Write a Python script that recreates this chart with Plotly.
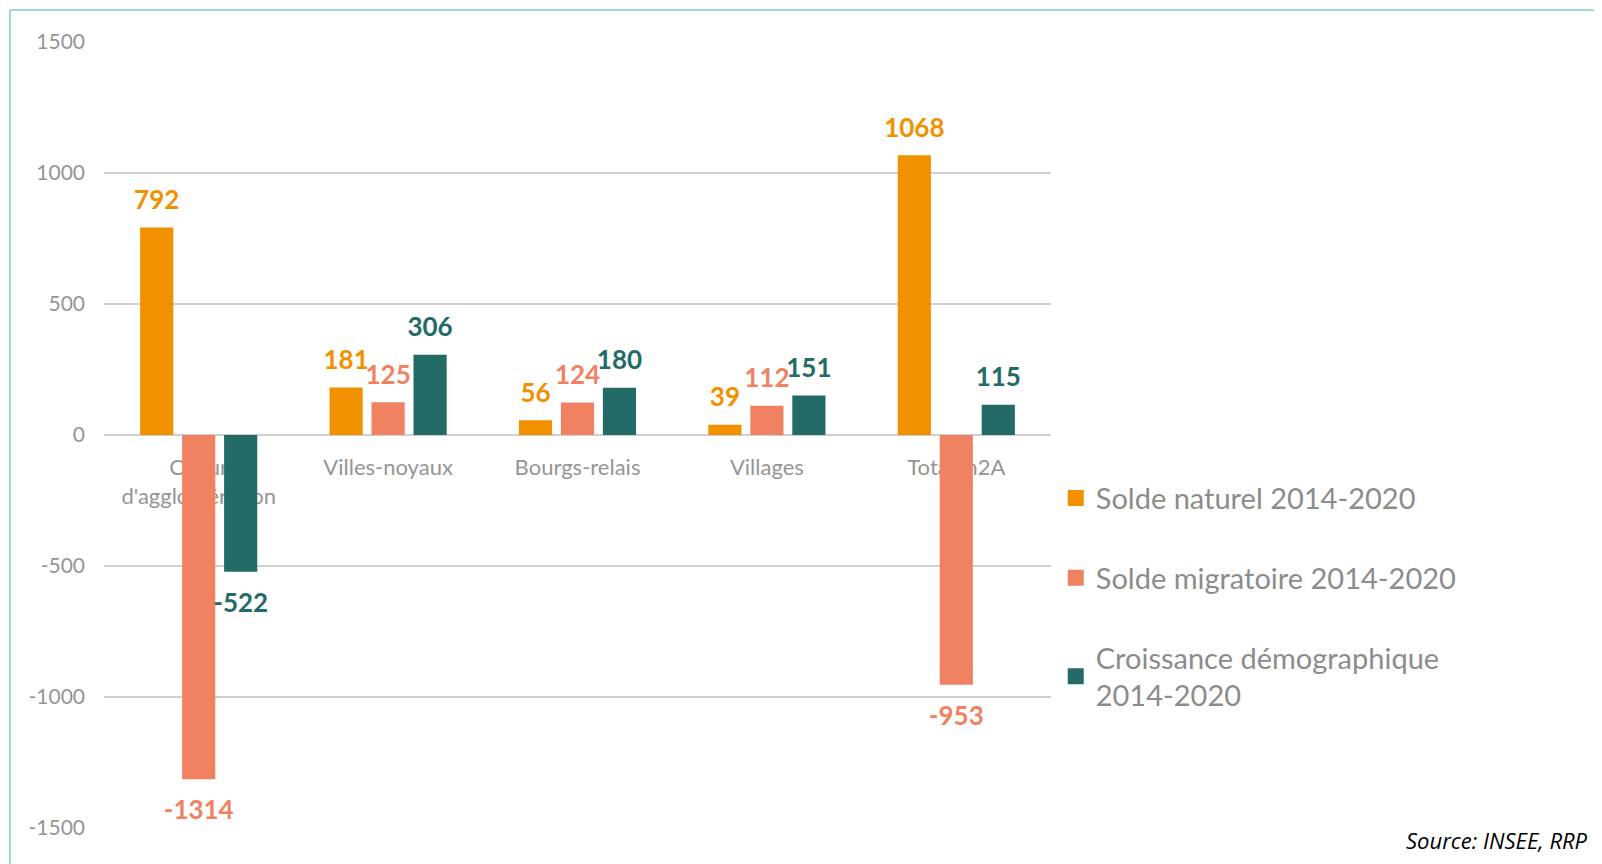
import plotly.graph_objects as go

categories = ["Coeur<br>d'agglomération", "Villes-noyaux", "Bourgs-relais", "Villages", "Total m2A"]
solde_naturel = [792, 181, 56, 39, 1068]
solde_migratoire = [-1314, 125, 124, 112, -953]
croissance = [-522, 306, 180, 151, 115]

y_ticks = [-1500, -1000, -500, 0, 500, 1000, 1500]
y_ticktext = ["-1500", "-1000", "-500", "0", "500", "1000", "1500"]

series = [
    ("Solde naturel 2014-2020", solde_naturel, "#F29100"),
    ("Solde migratoire 2014-2020", solde_migratoire, "#F08262"),
    ("Croissance démographique<br>2014-2020", croissance, "#236B67"),
]

FONT = "Lato, 'Open Sans', sans-serif"
GRAY = "#959595"

# invisible sub/sup spaces push the value labels a little away from the bar ends
SUB = "<sub><span style='font-size:48px'>&nbsp;</span></sub>"
SUP = "<sup><span style='font-size:26px'>&nbsp;</span></sup>"


def label(v):
    if v >= 0:
        return f"{SUB}{v}{SUB}"
    return f"{SUP}{v}{SUP}"


fig = go.Figure()
for i, (name, vals, col) in enumerate(series):
    fig.add_trace(go.Bar(
        x=categories, y=vals, name=name, showlegend=False,
        marker=dict(color=col, line=dict(width=0)),
        text=[label(v) for v in vals], textposition="outside",
        constraintext="none",
        textfont=dict(family=FONT, size=26, color=col, weight="bold"),
        cliponaxis=False,
    ))
    # legend entry with a bigger square swatch
    fig.add_trace(go.Scatter(
        x=[None], y=[None], mode="markers", name=name, legendgroup=str(i),
        marker=dict(symbol="square", size=16, color=col),
    ))

# page body has an 8px margin, so margins are trimmed by 8px
fig.update_layout(
    width=1602, height=864,
    margin=dict(l=96, r=559, t=34, b=44),
    paper_bgcolor="white", plot_bgcolor="white",
    barmode="group", bargap=0.335, bargroupgap=0.21,
    font=dict(family=FONT, color=GRAY),
    xaxis=dict(
        anchor="free", position=0.5, layer="below traces",
        showgrid=False, showline=True, linecolor="#d0d0d0", linewidth=2,
        ticks="", tickfont=dict(size=22, color=GRAY), ticklabelstandoff=13,
    ),
    yaxis=dict(
        range=[-1500, 1500], tickvals=y_ticks, ticktext=y_ticktext,
        showgrid=True, gridcolor="#d0d0d0", gridwidth=2, zeroline=False,
        tickfont=dict(size=21, color=GRAY), ticklabelstandoff=18,
    ),
    legend=dict(
        x=1.005, y=0.452, xanchor="left", yanchor="top",
        font=dict(size=29, color="#8c8c8c"), tracegroupgap=39,
        itemclick=False, itemsizing="trace",
    ),
    annotations=[dict(
        text="<i>Source: INSEE, RRP</i>", xref="paper", yref="paper",
        x=1.569, y=-0.015, xanchor="right", yanchor="middle", showarrow=False,
        font=dict(family="'Open Sans', sans-serif", size=22, color="black"),
    )],
    shapes=[
        dict(type="line", xref="paper", yref="paper", x0=-0.0993, x1=1.6, y0=1.0407, y1=1.0407,
             line=dict(color="#7fcdd4", width=1.5)),
        dict(type="line", xref="paper", yref="paper", x0=-0.0993, x1=-0.0993, y0=1.0407, y1=-0.1,
             line=dict(color="#7fcdd4", width=1.5)),
    ],
)

fig.write_html("out.html")
